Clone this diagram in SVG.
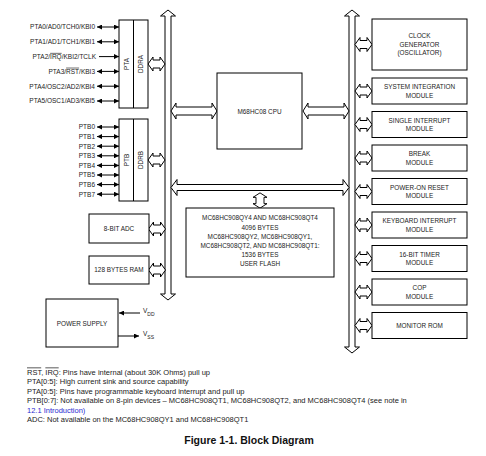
<svg xmlns="http://www.w3.org/2000/svg" width="486" height="456" viewBox="0 0 486 456">
<style>
.box{fill:#fff;stroke:#000;stroke-width:1}
.bus{fill:#fff;stroke:#000;stroke-width:1;stroke-linejoin:miter}
.t{font-family:"Liberation Sans",Arial,sans-serif;font-size:6.4px;fill:#222;text-anchor:middle}
.pl{font-family:"Liberation Sans",Arial,sans-serif;font-size:6.5px;fill:#222;text-anchor:end}
.note{font-family:"Liberation Sans",Arial,sans-serif;font-size:7.5px;fill:#222}
.link{fill:#2a2ad0}
.ol{text-decoration:overline}
.wire{stroke:#000;stroke-width:1;fill:none}
</style>
<defs>
<marker id="ah" viewBox="0 0 10 10" refX="10" refY="5" markerWidth="7" markerHeight="5" markerUnits="userSpaceOnUse" orient="auto-start-reverse">
<path d="M0,0 L10,5 L0,10 Z" fill="#000"/>
</marker>
<path id="conn" class="bus" d="M-8.5,0 L-3.5,-7 L-3.5,-4 L3.5,-4 L3.5,-7 L8.5,0 L3.5,7 L3.5,4 L-3.5,4 L-3.5,7 Z"/>
</defs>

<g id="connectors">
<!-- left vertical bus -->
<path class="bus" d="M168,10 L175.5,16 L171,16 L171,294 L175.5,294 L168,300 L160.5,294 L165,294 L165,16 L160.5,16 Z"/>
<!-- right vertical bus -->
<path class="bus" d="M352,10 L359.5,16 L355,16 L355,347 L359.5,347 L352,353 L344.5,347 L349,347 L349,16 L344.5,16 Z"/>
<!-- horizontal bus -->
<path class="bus" d="M171,187.5 L177,179.5 L177,184.5 L343,184.5 L343,179.5 L349,187.5 L343,195.5 L343,190.5 L177,190.5 L177,195.5 Z"/>
<!-- CPU arrows -->
<path class="bus" d="M171,111 L176,103 L176,107 L212,107 L212,103 L217,111 L212,119 L212,115 L176,115 L176,119 Z"/>
<path class="bus" d="M303,111 L308,103 L308,107 L344,107 L344,103 L349,111 L344,119 L344,115 L308,115 L308,119 Z"/>
<!-- memory arrow -->
<use href="#conn" transform="translate(260,200.5) rotate(90) scale(0.9,1)"/>
<!-- port / peripheral connectors -->
<use href="#conn" transform="translate(156.5,64)"/>
<use href="#conn" transform="translate(156.5,160)"/>
<use href="#conn" transform="translate(157,229)"/>
<use href="#conn" transform="translate(157,270)"/>
<!-- right module connectors -->
<use href="#conn" transform="translate(363.5,44.5)"/>
<use href="#conn" transform="translate(363.5,91)"/>
<use href="#conn" transform="translate(363.5,124.5)"/>
<use href="#conn" transform="translate(363.5,158)"/>
<use href="#conn" transform="translate(363.5,191.5)"/>
<use href="#conn" transform="translate(363.5,225)"/>
<use href="#conn" transform="translate(363.5,258.5)"/>
<use href="#conn" transform="translate(363.5,292)"/>
<use href="#conn" transform="translate(363.5,325.5)"/>
<!-- port A pin arrows -->
<line class="wire" x1="97" y1="27" x2="119" y2="27" marker-start="url(#ah)" marker-end="url(#ah)"/>
<line class="wire" x1="97" y1="41.8" x2="119" y2="41.8" marker-start="url(#ah)" marker-end="url(#ah)"/>
<line class="wire" x1="99" y1="56.6" x2="119" y2="56.6" marker-end="url(#ah)"/>
<line class="wire" x1="97" y1="71.4" x2="119" y2="71.4" marker-start="url(#ah)" marker-end="url(#ah)"/>
<line class="wire" x1="97" y1="86.2" x2="119" y2="86.2" marker-start="url(#ah)" marker-end="url(#ah)"/>
<line class="wire" x1="97" y1="101" x2="119" y2="101" marker-start="url(#ah)" marker-end="url(#ah)"/>
<!-- port B pin arrows -->
<line class="wire" x1="97" y1="127" x2="119" y2="127" marker-start="url(#ah)" marker-end="url(#ah)"/>
<line class="wire" x1="97" y1="136.6" x2="119" y2="136.6" marker-start="url(#ah)" marker-end="url(#ah)"/>
<line class="wire" x1="97" y1="146.2" x2="119" y2="146.2" marker-start="url(#ah)" marker-end="url(#ah)"/>
<line class="wire" x1="97" y1="155.8" x2="119" y2="155.8" marker-start="url(#ah)" marker-end="url(#ah)"/>
<line class="wire" x1="97" y1="165.4" x2="119" y2="165.4" marker-start="url(#ah)" marker-end="url(#ah)"/>
<line class="wire" x1="97" y1="175" x2="119" y2="175" marker-start="url(#ah)" marker-end="url(#ah)"/>
<line class="wire" x1="97" y1="184.6" x2="119" y2="184.6" marker-start="url(#ah)" marker-end="url(#ah)"/>
<line class="wire" x1="97" y1="194.2" x2="119" y2="194.2" marker-start="url(#ah)" marker-end="url(#ah)"/>
<!-- power arrows -->
<line class="wire" x1="140" y1="313" x2="119" y2="313" marker-end="url(#ah)"/>
<line class="wire" x1="118" y1="336" x2="139" y2="336" marker-end="url(#ah)"/>
</g>

<g id="port-a">
<rect class="box" x="119" y="20" width="29" height="88"/>
<line class="wire" x1="133.5" y1="20" x2="133.5" y2="108"/>
<text class="t" transform="translate(128.5,64) rotate(-90)">PTA</text>
<text class="t" transform="translate(143,64) rotate(-90)">DDRA</text>
<text class="pl" x="95" y="29.3">PTA0/AD0/TCH0/KBI0</text>
<text class="pl" x="95" y="44.1">PTA1/AD1/TCH1/KBI1</text>
<text class="pl" x="96" y="58.9">PTA2/<tspan class="ol">IRQ</tspan>/KBI2/TCLK</text>
<text class="pl" x="95" y="73.7">PTA3/<tspan class="ol">RST</tspan>/KBI3</text>
<text class="pl" x="95" y="88.5">PTA4/OSC2/AD2/KBI4</text>
<text class="pl" x="95" y="103.3">PTA5/OSC1/AD3/KBI5</text>
</g>

<g id="port-b">
<rect class="box" x="119" y="119" width="29" height="82"/>
<line class="wire" x1="133.5" y1="119" x2="133.5" y2="201"/>
<text class="t" transform="translate(128.5,160) rotate(-90)">PTB</text>
<text class="t" transform="translate(143,160) rotate(-90)">DDRB</text>
<text class="pl" x="95" y="129.3">PTB0</text>
<text class="pl" x="95" y="138.9">PTB1</text>
<text class="pl" x="95" y="148.5">PTB2</text>
<text class="pl" x="95" y="158.1">PTB3</text>
<text class="pl" x="95" y="167.7">PTB4</text>
<text class="pl" x="95" y="177.3">PTB5</text>
<text class="pl" x="95" y="186.9">PTB6</text>
<text class="pl" x="95" y="196.5">PTB7</text>
</g>

<g id="cpu">
<rect class="box" x="217" y="73" width="85" height="76"/>
<text class="t" x="259.5" y="114.3">M68HC08 CPU</text>
</g>

<g id="flash">
<rect class="box" x="186" y="208" width="148" height="69"/>
<text class="t" x="260" y="220.3">MC68HC908QY4 AND MC68HC908QT4</text>
<text class="t" x="260" y="229.5">4096 BYTES</text>
<text class="t" x="260" y="238.7">MC68HC908QY2, MC68HC908QY1,</text>
<text class="t" x="260" y="247.9">MC68HC908QT2, AND MC68HC908QT1:</text>
<text class="t" x="260" y="257.1">1536 BYTES</text>
<text class="t" x="260" y="266.3">USER FLASH</text>
</g>

<g id="adc">
<rect class="box" x="89" y="214" width="60" height="29"/>
<text class="t" x="119" y="231.3">8-BIT ADC</text>
</g>

<g id="ram">
<rect class="box" x="89" y="256" width="60" height="28"/>
<text class="t" x="119" y="272.3">128 BYTES RAM</text>
</g>

<g id="power-supply">
<rect class="box" x="46" y="299" width="72" height="48"/>
<text class="t" x="82" y="326.3">POWER SUPPLY</text>
<text class="note" x="143" y="313" style="font-size:6.5px">V<tspan dy="2.5" style="font-size:5px">DD</tspan></text>
<text class="note" x="143" y="336" style="font-size:6.5px">V<tspan dy="2.5" style="font-size:5px">SS</tspan></text>
</g>

<g id="clock">
<rect class="box" x="372" y="19" width="95" height="51"/>
<text class="t" x="419.5" y="38.3">CLOCK</text>
<text class="t" x="419.5" y="46.8">GENERATOR</text>
<text class="t" x="419.5" y="55.3">(OSCILLATOR)</text>
</g>
<g id="sim">
<rect class="box" x="372" y="78" width="95" height="26"/>
<text class="t" x="419.5" y="89.3">SYSTEM INTEGRATION</text>
<text class="t" x="419.5" y="97.8">MODULE</text>
</g>
<g id="sint">
<rect class="box" x="372" y="111.5" width="95" height="26"/>
<text class="t" x="419.5" y="122.8">SINGLE INTERRUPT</text>
<text class="t" x="419.5" y="131.3">MODULE</text>
</g>
<g id="break">
<rect class="box" x="372" y="145" width="95" height="26"/>
<text class="t" x="419.5" y="156.3">BREAK</text>
<text class="t" x="419.5" y="164.8">MODULE</text>
</g>
<g id="por">
<rect class="box" x="372" y="178.5" width="95" height="26"/>
<text class="t" x="419.5" y="189.8">POWER-ON RESET</text>
<text class="t" x="419.5" y="198.3">MODULE</text>
</g>
<g id="kbi">
<rect class="box" x="372" y="212" width="95" height="26"/>
<text class="t" x="419.5" y="223.3">KEYBOARD INTERRUPT</text>
<text class="t" x="419.5" y="231.8">MODULE</text>
</g>
<g id="timer">
<rect class="box" x="372" y="245.5" width="95" height="26"/>
<text class="t" x="419.5" y="256.8">16-BIT TIMER</text>
<text class="t" x="419.5" y="265.3">MODULE</text>
</g>
<g id="cop">
<rect class="box" x="372" y="279" width="95" height="26"/>
<text class="t" x="419.5" y="290.3">COP</text>
<text class="t" x="419.5" y="298.8">MODULE</text>
</g>
<g id="monitor-rom">
<rect class="box" x="372" y="312.5" width="95" height="26"/>
<text class="t" x="419.5" y="327.8">MONITOR ROM</text>
</g>

<g id="notes">
<text class="note" x="27" y="374.5"><tspan class="ol">RST</tspan>, <tspan class="ol">IRQ</tspan>: Pins have internal (about 30K Ohms) pull up</text>
<text class="note" x="27" y="384">PTA[0:5]: High current sink and source capability</text>
<text class="note" x="27" y="393.5">PTA[0:5]: Pins have programmable keyboard interrupt and pull up</text>
<text class="note" x="27" y="403">PTB[0:7]: Not available on 8-pin devices – MC68HC908QT1, MC68HC908QT2, and MC68HC908QT4 (see note in</text>
<text class="note link" x="27" y="412.5">12.1 Introduction)</text>
<text class="note" x="27" y="422">ADC: Not available on the MC68HC908QY1 and MC68HC908QT1</text>
<text x="249" y="444" style="font-family:'Liberation Sans',Arial,sans-serif;font-size:10.5px;font-weight:bold;fill:#111;text-anchor:middle">Figure 1-1. Block Diagram</text>
</g>
</svg>
